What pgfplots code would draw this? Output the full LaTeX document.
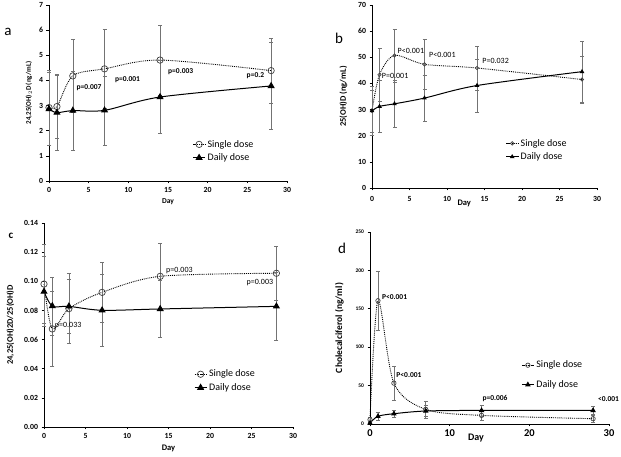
\documentclass[border=0pt]{standalone}
\usepackage{fontspec}
\setmainfont{Carlito}
\usepackage{pgfplots}
\pgfplotsset{compat=1.18}
\pgfplotsset{
 panel/.style={
  scale only axis, axis lines=left, axis line style={-, black, line width=0.7pt},
  clip=false,
  tick align=outside, major tick length=2.5pt, tick style={black, line width=0.6pt},
  tick label style={font=\bfseries\fontsize{7.8}{8}\selectfont},
  /pgf/number format/assume math mode=true,
  label style={font=\bfseries\fontsize{7.5}{8}\selectfont},
  xmin=0,xmax=30, xtick={0,5,...,30},
  legend style={draw=none, fill=none, font=\fontsize{10}{11}\selectfont, anchor=north west, row sep=1pt},
  legend cell align=left,
  legend image code/.code={\draw[mark repeat=2,mark phase=2,##1] plot coordinates {(0pt,0pt) (6pt,0pt) (12pt,0pt)};},
  error bars/y dir=both, error bars/y explicit,
  error bars/error bar style={black!55, line width=0.55pt, solid},
  error bars/error mark options={rotate=90, black!55, mark size=2pt, line width=0.55pt, solid},
 },
 single/.style={densely dotted, line width=0.9pt, black, smooth, mark=o, mark size=3.2pt, mark options={solid, line width=0.7pt, fill=white, draw=black!75}},
 daily/.style={solid, line width=1pt, black, smooth, mark=triangle*, mark size=3.2pt, mark options={solid}},
}
\tikzset{ann/.style={font=\bfseries\fontsize{7.5}{8}\selectfont, anchor=west, inner sep=0pt}}
\begin{document}
\begin{tikzpicture}[x=1pt,y=1pt]
\path (0,0) rectangle (621,457);
% ---------- panel a
\begin{axis}[panel, at={(49pt,276pt)}, anchor=south west, width=238pt, height=176pt,
  ymin=0, ymax=7, ytick={0,...,7}, ylabel={24,25(OH)$_2$D (ng/mL)}, xlabel={Day},
  ylabel style={font=\bfseries\fontsize{7}{8}\selectfont},
  legend style={at={(0.59,0.256)}}]
\addplot[single] coordinates {(0,2.92)+-(0,1.5) (1,2.96)+-(0,1.27) (3,4.18)+-(0,1.44) (7,4.46)+-(0,1.56) (14,4.81)+-(0,1.4) (28,4.39)+-(0,1.3)};
\addplot[daily] coordinates {(0,2.86)+-(0,1.45) (1,2.72)+-(0,1.5) (3,2.80)+-(0,1.57) (7,2.81)+-(0,1.37) (14,3.34)+-(0,1.45) (28,3.78)+-(0,1.73)};
\legend{Single dose, Daily dose}
\node[ann] at (axis cs:3.45,3.73) {p=0.007};
\node[ann] at (axis cs:8.3,4.05) {p=0.001};
\node[ann] at (axis cs:15.0,4.34) {p=0.003};
\node[ann] at (axis cs:24.9,4.18) {p=0.2};
\end{axis}
% ---------- panel b
\begin{axis}[panel, at={(372pt,269pt)}, anchor=south west, width=225pt, height=183pt,
  ymin=0, ymax=70, ytick={0,10,...,70}, ylabel={25(OH)D (ng/mL)},
  ylabel style={font=\bfseries\fontsize{8.5}{9}\selectfont},
  ylabel shift=4pt,
  xticklabel style={yshift=-2pt},
  legend style={at={(0.58,0.29)}}]
\addplot[single, mark size=1.7pt] coordinates {(0,29.5)+-(0,9.5) (1,43.3)+-(0,10.2) (3,50.7)+-(0,10.1) (7,47.3)+-(0,9.7) (14,45.9)+-(0,8.5) (28,41.5)+-(0,9)};
\addplot[daily, mark size=1.7pt] coordinates {(0,29.5)+-(0,8) (1,31.2)+-(0,9.9) (3,32.2)+-(0,9) (7,34.4)+-(0,8.7) (14,39.2)+-(0,10.2) (28,44.5)+-(0,11.8)};
\legend{Single dose, Daily dose}
\node[ann, font=\fontsize{8}{8}\selectfont] at (axis cs:1.3,43) {P=0.001};
\node[ann, font=\fontsize{8}{8}\selectfont] at (axis cs:3.4,52.6) {P<0.001};
\node[ann, font=\fontsize{8}{8}\selectfont] at (axis cs:7.6,50.9) {P<0.001};
\node[ann, font=\fontsize{8}{8}\selectfont] at (axis cs:14.7,48.5) {P=0.032};
\node[font=\bfseries\fontsize{8.5}{9}\selectfont] at (axis cs:12.3,0) [yshift=-15pt] {Day};
\end{axis}
% ---------- panel c
\begin{axis}[panel, at={(44pt,30pt)}, anchor=south west, width=249pt, height=204pt,
  ymin=0, ymax=0.14, ytick={0,0.02,...,0.14},
  yticklabel style={/pgf/number format/.cd, fixed, fixed zerofill, precision=2},
  ylabel={24,25(OH)2D/25(OH)D}, xlabel={Day},
  label style={font=\bfseries\fontsize{8.5}{9}\selectfont},
  ylabel shift=3pt,
  legend style={at={(0.59,0.30)}}]
\addplot[single] coordinates {(0,0.0981)+-(0,0.027) (1,0.0673)+-(0,0.0258) (3,0.0812)+-(0,0.024) (7,0.0924)+-(0,0.0208) (14,0.1034)+-(0,0.0229) (28,0.1055)+-(0,0.0183)};
\addplot[daily] coordinates {(0,0.0929)+-(0,0.024) (1,0.0830)+-(0,0.02) (3,0.0828)+-(0,0.0185) (7,0.0801)+-(0,0.0246) (14,0.0810)+-(0,0.0197) (28,0.0828)+-(0,0.0235)};
\legend{Single dose, Daily dose}
\node[ann, font=\fontsize{8}{8}\selectfont] at (axis cs:1.3,0.0698) {p=0.033};
\node[ann, font=\fontsize{8}{8}\selectfont] at (axis cs:14.7,0.1075) {p=0.003};
\node[ann, font=\fontsize{8}{8}\selectfont] at (axis cs:24.4,0.0993) {p=0.003};
\end{axis}
% ---------- panel d
\begin{axis}[panel, at={(370pt,33pt)}, anchor=south west, width=239pt, height=192pt,
  ymin=0, ymax=250, ytick={0,50,...,250}, xtick={0,10,20,30},
  yticklabel style={font=\bfseries\fontsize{5.5}{6}\selectfont},
  xticklabel style={font=\bfseries\fontsize{10.5}{11}\selectfont},
  ylabel={Cholecalciferol (ng/ml)},
  ylabel style={font=\bfseries\fontsize{9.5}{10}\selectfont},
  ylabel shift=5pt,
  legend style={at={(0.62,0.35)}, row sep=7pt}]
\addplot[single, mark size=2.2pt] coordinates {(0,5.6)+-(0,3) (1,160.5)+-(0,39) (3,53.2)+-(0,22.5) (7,19)+-(0,11) (14,11.2)+-(0,6) (28,6.9)+-(0,5)};
\addplot[daily, mark size=2.2pt] coordinates {(0,1.3)+-(0,1) (1,10)+-(0,5) (3,13.4)+-(0,4) (7,16.9)+-(0,7) (14,17.7)+-(0,7) (28,17.7)+-(0,5)};
\legend{Single dose, Daily dose}
\node[ann] at (axis cs:1.5,164.8) {P<0.001};
\node[ann] at (axis cs:3.3,64) {P<0.001};
\node[ann] at (axis cs:14.1,33) {p=0.006};
\node[ann] at (axis cs:28.6,33) {<0.001};
\node[font=\bfseries\fontsize{10}{10}\selectfont] at (axis cs:13.3,0) [yshift=-14pt] {Day};
\end{axis}
% panel letters
\node[font=\fontsize{15}{16}\selectfont] at (8,425) {a};
\node[font=\fontsize{15}{16}\selectfont] at (339,419) {b};
\node[font=\bfseries\fontsize{11}{12}\selectfont] at (11,221) {c};
\node[font=\fontsize{15}{16}\selectfont] at (342,209) {d};
\pgfresetboundingbox
\useasboundingbox (0,0) rectangle (621,457);
\end{tikzpicture}
\end{document}
